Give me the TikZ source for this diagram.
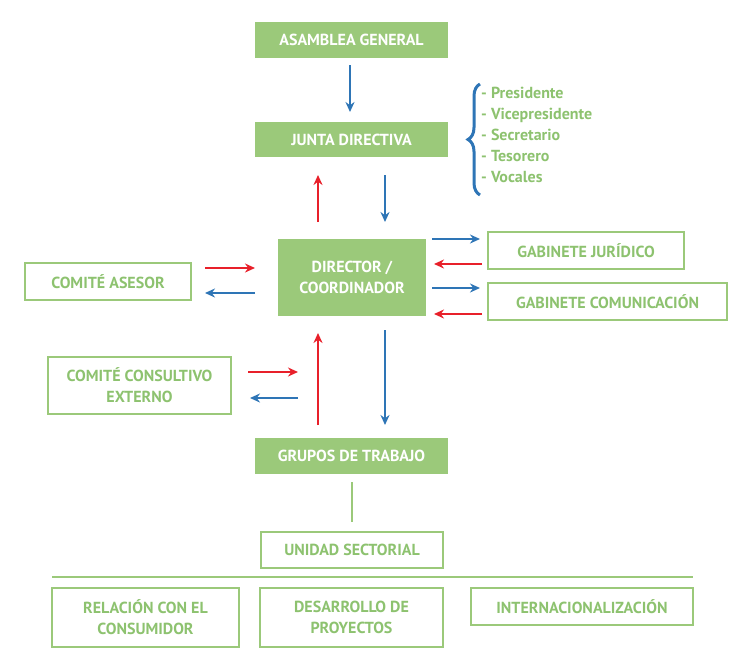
\documentclass[tikz,border=0pt]{standalone}
\usepackage{fontspec}
\setmainfont{PT Sans}
\usetikzlibrary{arrows.meta,decorations.pathreplacing}
\definecolor{gf}{HTML}{9BC97A}
\definecolor{gt}{HTML}{8DC26F}
\definecolor{bl}{HTML}{2E75B6}
\definecolor{rd}{HTML}{E8202A}
\begin{document}
\begin{tikzpicture}[x=1pt,y=-1pt,
 fbox/.style={fill=gf,draw=none,text=white,font=\bfseries\fontsize{16}{21}\selectfont,align=center,inner sep=0},
 obox/.style={draw=gf,line width=2.5pt,text=gt,font=\bfseries\fontsize{16}{21}\selectfont,align=center,inner sep=0},
 ba/.style={draw=bl,line width=2pt,-{Stealth[length=10pt,width=9pt]}},
 ra/.style={draw=rd,line width=2pt,-{Stealth[length=10pt,width=9pt]}}]
\useasboundingbox (0,0) rectangle (753,667);
\newcommand\bx[6]{\node[#1,minimum width=#4-#3,minimum height=#6-#5] (#2) at ({(#3+#4)/2},{(#5+#6)/2})}
\bx{fbox}{ag}{255}{448}{22}{58} {ASAMBLEA GENERAL};
\bx{fbox}{jd}{255}{448}{122}{157} {JUNTA DIRECTIVA};
\bx{fbox}{dc}{278}{426}{239}{316} {DIRECTOR /\\COORDINADOR};
\bx{obox}{gj}{488}{684}{232}{269} {GABINETE JURÍDICO};
\bx{obox}{gc}{488}{727}{283}{320} {GABINETE COMUNICACIÓN};
\bx{obox}{ca}{25}{191}{263}{300} {COMITÉ ASESOR};
\bx{obox}{ce}{48}{231}{357}{414} {COMITÉ CONSULTIVO\\EXTERNO};
\bx{fbox}{gt}{255}{448}{438}{474} {GRUPOS DE TRABAJO};
\bx{obox}{us}{261}{443}{532}{568} {UNIDAD SECTORIAL};
\bx{obox}{rc}{52}{239}{588}{647} {RELACIÓN CON EL\\CONSUMIDOR};
\bx{obox}{dp}{260}{443}{588}{647} {DESARROLLO DE\\PROYECTOS};
\bx{obox}{in}{471}{693}{588}{625} {INTERNACIONALIZACIÓN};
\draw[bl,line width=3pt,decorate,decoration={brace,amplitude=12pt}] (480,195) -- (480,84);
\node[anchor=north west,text=gt,font=\bfseries\fontsize{16}{21}\selectfont,align=left,inner sep=0] (lst) at (481,87)
 {- Presidente\\- Vicepresidente\\- Secretario\\- Tesorero\\- Vocales};
\coordinate (a1) at (350,65); \coordinate (a2) at (350,112);
\draw[ba] (a1) -- (a2);
\coordinate (b1) at (318,222); \coordinate (b2) at (318,175);
\draw[ra] (b1) -- (b2);
\coordinate (c1) at (385,175); \coordinate (c2) at (385,222);
\draw[ba] (c1) -- (c2);
\coordinate (d1) at (432,239); \coordinate (d2) at (480,239); \draw[ba] (d1) -- (d2);
\coordinate (e1) at (482,264); \coordinate (e2) at (434,264); \draw[ra] (e1) -- (e2);
\coordinate (f1) at (432,288); \coordinate (f2) at (480,288); \draw[ba] (f1) -- (f2);
\coordinate (g1) at (482,314); \coordinate (g2) at (434,314); \draw[ra] (g1) -- (g2);
\coordinate (h1) at (205,268); \coordinate (h2) at (255,268); \draw[ra] (h1) -- (h2);
\coordinate (i1) at (255,293); \coordinate (i2) at (205,293); \draw[ba] (i1) -- (i2);
\coordinate (j1) at (248,372); \coordinate (j2) at (298,372); \draw[ra] (j1) -- (j2);
\coordinate (k1) at (298,398); \coordinate (k2) at (250,398); \draw[ba] (k1) -- (k2);
\coordinate (l1) at (318,425); \coordinate (l2) at (318,333); \draw[ra] (l1) -- (l2);
\coordinate (m1) at (385,330); \coordinate (m2) at (385,425); \draw[ba] (m1) -- (m2);
\coordinate (n1) at (352,482); \coordinate (n2) at (352,522);
\draw[gf,line width=2.5pt] (n1) -- (n2);
\coordinate (o1) at (52,577); \coordinate (o2) at (693,577);
\draw[gf,line width=2.5pt] (o1) -- (o2);
\end{tikzpicture}
\end{document}
